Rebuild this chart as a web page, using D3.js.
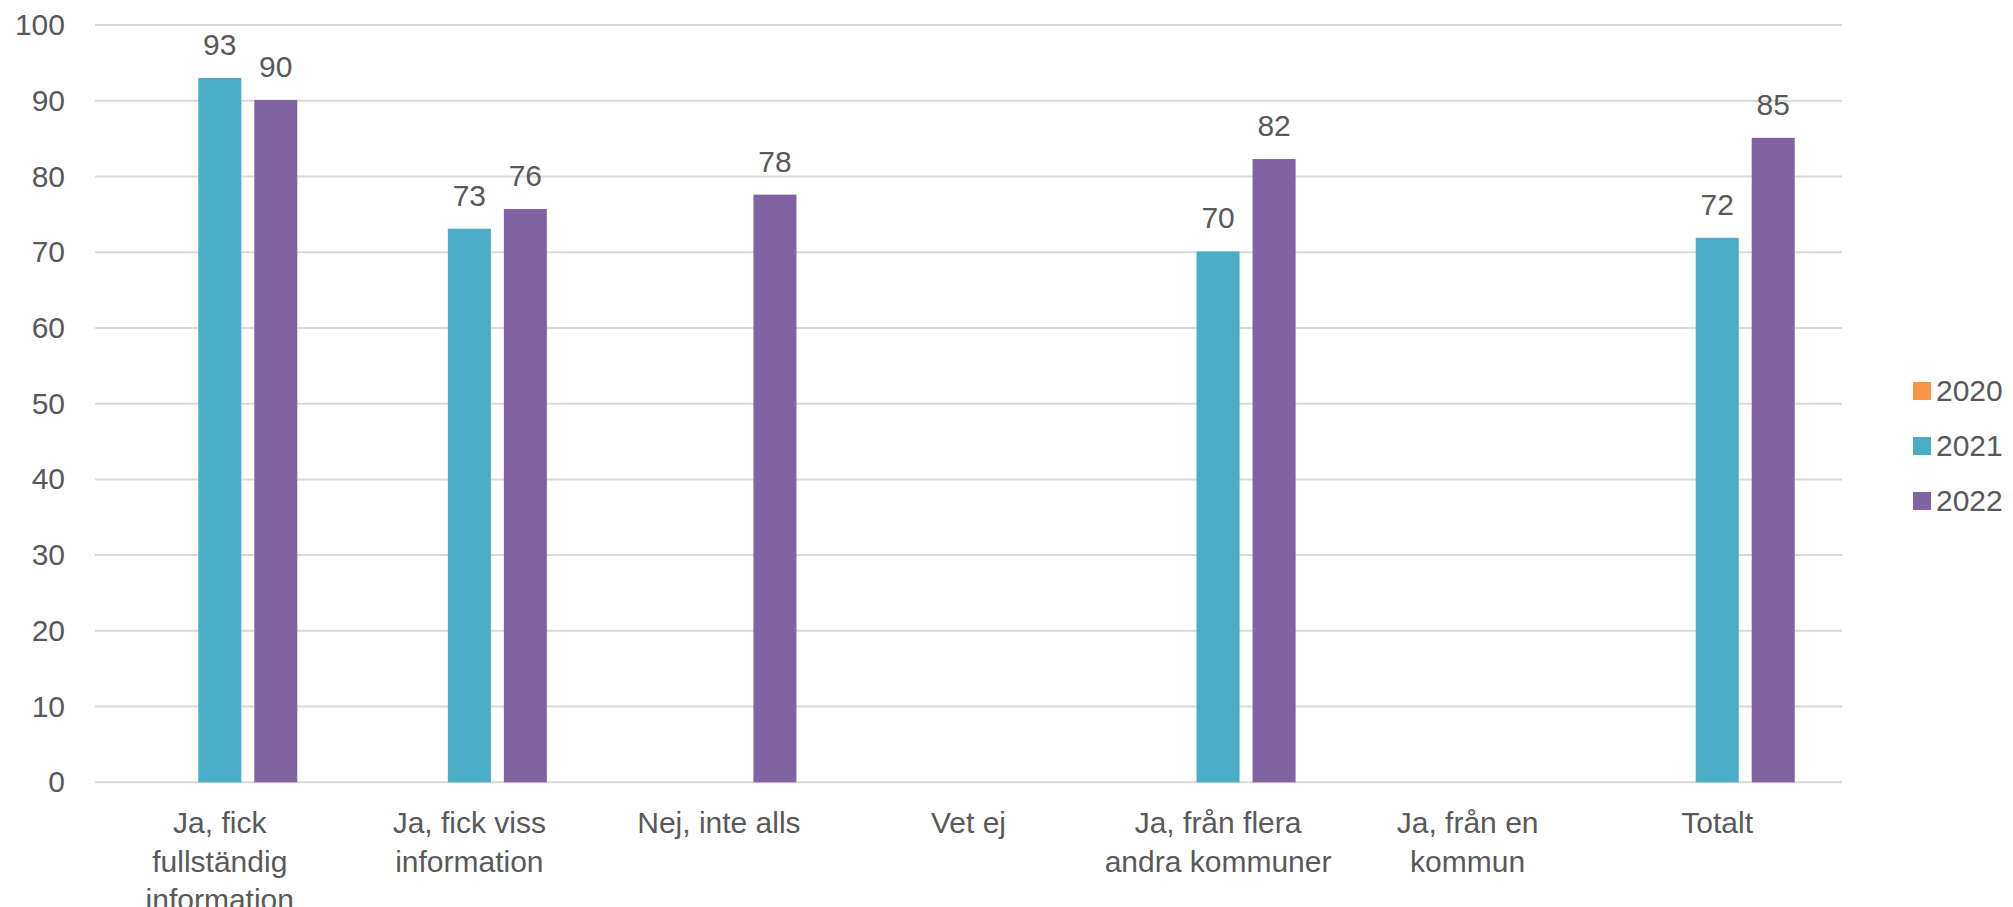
<!DOCTYPE html>
<html><head><meta charset="utf-8">
<script src="https://cdn.jsdelivr.net/npm/d3@7"></script>
<style>
html,body{margin:0;padding:0;background:#fff;}
svg text{font-family:"Liberation Sans",Arial,sans-serif;fill:#595959;}
</style></head>
<body><svg id="c" width="2013" height="907"></svg>
<script>
const categories = [
  ["Ja, fick","fullständig","information"],
  ["Ja, fick viss","information"],
  ["Nej, inte alls"],
  ["Vet ej"],
  ["Ja, från flera","andra kommuner"],
  ["Ja, från en","kommun"],
  ["Totalt"]
];
const seriesNames = ["2020","2021","2022"];
const colors = ["#F79646","#4BACC6","#8064A2"];
const values2020 = [null,null,null,null,null,null,null];
const values2021 = [93,73.1,null,null,70.1,null,71.9];
const values2022 = [90.1,75.7,77.6,null,82.3,null,85.1];
const seriesValues = [values2020, values2021, values2022];
const yTicks = [0,10,20,30,40,50,60,70,80,90,100];

(function(){
const svg = d3.select("#c");
const mLeft = 95, mRight = 1842, mTop = 25, mBottom = 782.3;
const catKeys = categories.map((d,i)=>i);
const x0 = d3.scaleBand().domain(catKeys).range([mLeft,mRight]).padding(0);
const bw = x0.bandwidth();
const groupW = 168;
const x1 = d3.scaleBand().domain(seriesNames)
  .range([(bw-groupW)/2,(bw+groupW)/2]).paddingInner(0.232).paddingOuter(0.116);
const y = d3.scaleLinear().domain([0,100]).range([mBottom,mTop]);

svg.append("g").selectAll("line").data(yTicks).join("line")
  .attr("x1",mLeft).attr("x2",mRight)
  .attr("y1",d=>y(d)).attr("y2",d=>y(d))
  .attr("stroke","#D9D9D9").attr("stroke-width",2);

const yAxis = d3.axisLeft(y).tickValues(yTicks).tickSize(0).tickPadding(30);
const gy = svg.append("g").attr("transform",`translate(${mLeft},0)`).call(yAxis);
gy.select(".domain").remove();
gy.selectAll("text").attr("font-size",30).attr("fill","#595959")
  .style("font-family","'Liberation Sans',Arial,sans-serif");

const data = [];
catKeys.forEach(ci=>{
  seriesNames.forEach((s,si)=>{
    const v = seriesValues[si][ci];
    if(v!=null) data.push({ci,s,si,v});
  });
});
svg.append("g").selectAll("rect").data(data).join("rect")
  .attr("x",d=>x0(d.ci)+x1(d.s))
  .attr("width",x1.bandwidth())
  .attr("y",d=>y(d.v))
  .attr("height",d=>y(0)-y(d.v))
  .attr("fill",d=>colors[d.si]);

svg.append("g").selectAll("text").data(data).join("text")
  .attr("x",d=>x0(d.ci)+x1(d.s)+x1.bandwidth()/2)
  .attr("y",d=>y(d.v)-23)
  .attr("text-anchor","middle")
  .attr("font-size",30)
  .text(d=>Math.round(d.v));

const cg = svg.append("g").selectAll("text").data(catKeys).join("text")
  .attr("x",d=>x0(d)+bw/2)
  .attr("y",833)
  .attr("text-anchor","middle")
  .attr("font-size",30);
cg.each(function(d){
  const t = d3.select(this);
  categories[d].forEach((line,li)=>{
    t.append("tspan").attr("x",x0(d)+bw/2).attr("y",833+li*38.5).text(line);
  });
});

const lg = svg.append("g").selectAll("g").data(seriesNames).join("g")
  .attr("transform",(d,i)=>`translate(1913,${382+i*55})`);
lg.append("rect").attr("width",18).attr("height",18).attr("fill",(d,i)=>colors[i]);
lg.append("text").attr("x",23).attr("y",19).attr("font-size",30).text(d=>d);
})();
</script></body></html>
